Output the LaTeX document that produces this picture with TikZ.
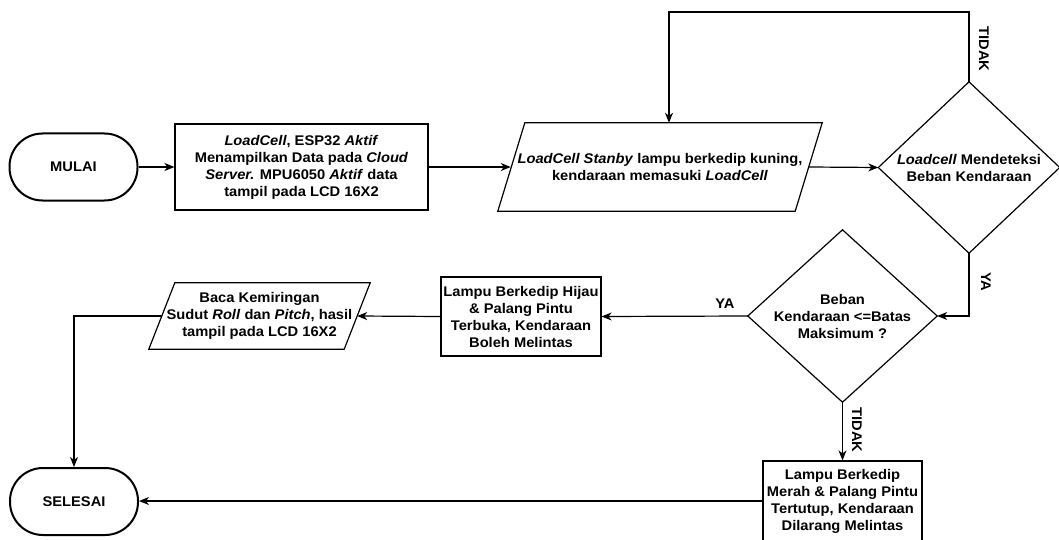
\documentclass[tikz,border=0pt]{standalone}
\usepackage{fontspec}
\setmainfont{Liberation Sans}[FakeStretch=1.05]
\usetikzlibrary{arrows.meta}
\begin{document}
\begin{tikzpicture}[x=1pt,y=-1pt,
  every node/.style={font=\fontsize{14}{17}\selectfont\bfseries, align=center, inner sep=0pt},
  lw/.style={line width=1.2pt},
  terminal/.style={draw, line width=2pt, rounded corners=33pt, minimum width=128pt, minimum height=67pt},
  procbox/.style={draw, lw, minimum width=#1, minimum height=#1},
  shapebox/.style={draw=none},
  outline/.style={draw, lw, line join=miter},
  arr/.style={lw, -{Stealth[length=10pt,width=8pt,inset=3pt]}},
  lbl/.style={font=\fontsize{14}{17}\selectfont\bfseries}
]
\useasboundingbox (0,0) rectangle (1059,540);
\fill[white] (0,0) rectangle (1059,540);

% terminals
\node[terminal] (start) at (73.5,167) {MULAI};
\node[terminal] (end) at (74,501.5) {SELESAI};

% process box 1
\node[draw, lw, minimum width=253pt, minimum height=86pt] (b1) at (301.5,167)
  {\textit{LoadCell}, ESP32 \textit{Aktif}\\Menampilkan Data pada \textit{Cloud}\\\textit{Server.} MPU6050 \textit{Aktif} data\\tampil pada LCD 16X2};

% parallelogram 1
\node[shapebox, minimum width=324pt, minimum height=88pt] (p1) at (660,167)
  {\textit{LoadCell Stanby} lampu berkedip kuning,\\kendaraan memasuki \textit{LoadCell}};
\draw[outline] ([xshift=27pt]p1.north west) -- (p1.north east) -- ([xshift=-27pt]p1.south east) -- (p1.south west) -- cycle;

% diamond 1
\node[shapebox, minimum width=181pt, minimum height=171pt] (d1) at (969,167.5)
  {\textit{Loadcell} Mendeteksi\\Beban Kendaraan};
\draw[outline] (d1.north) -- (d1.east) -- (d1.south) -- (d1.west) -- cycle;

% diamond 2
\node[shapebox, minimum width=189pt, minimum height=172pt] (d2) at (842.5,316)
  {Beban\\Kendaraan <=Batas\\Maksimum ?};
\draw[outline] (d2.north) -- (d2.east) -- (d2.south) -- (d2.west) -- cycle;

% box hijau
\node[draw, lw, minimum width=160pt, minimum height=79pt] (b2) at (521,316.5)
  {Lampu Berkedip Hijau\\\& Palang Pintu\\Terbuka, Kendaraan\\Boleh Melintas};

% parallelogram 2
\node[shapebox, minimum width=221pt, minimum height=66pt] (p2) at (259.5,316)
  {Baca Kemiringan\\Sudut \textit{Roll} dan \textit{Pitch}, hasil\\tampil pada LCD 16X2};
\draw[outline] ([xshift=26pt]p2.north west) -- (p2.north east) -- ([xshift=-26pt]p2.south east) -- (p2.south west) -- cycle;

% box merah
\node[draw, lw, minimum width=159pt, minimum height=80pt] (b3) at (842.5,501)
  {Lampu Berkedip\\Merah \& Palang Pintu\\Tertutup, Kendaraan\\Dilarang Melintas};

% connectors
\coordinate (lp) at (669,12);
\draw[arr] (start.east) -- (b1.west);
\draw[arr] (b1.east) -- ([xshift=13pt]p1.west);
\draw[arr] ([xshift=-13pt]p1.east) -- (d1.west);
\draw[arr] (d1.north) |- (lp) -- (lp |- p1.north);
\draw[arr] (d1.south) |- (d2.east);
\draw[arr] (d2.west) -- (b2.east);
\draw[arr] (b2.west) -- ([xshift=-13pt]p2.east);
\draw[arr] ([xshift=13pt]p2.west) -| (end.north);
\draw[arr] (d2.south) -- (b3.north);
\draw[arr] (b3.west) -- (b3.west -| end.east);

% labels
\node[lbl, rotate=-90] (t1) at (984,49) {TIDAK};
\node[lbl, rotate=-90] (y1) at (986,282) {YA};
\node[lbl] (y2) at (725,304) {YA};
\node[lbl, rotate=-90] (t2) at (857,430) {TIDAK};
\end{tikzpicture}
\end{document}
